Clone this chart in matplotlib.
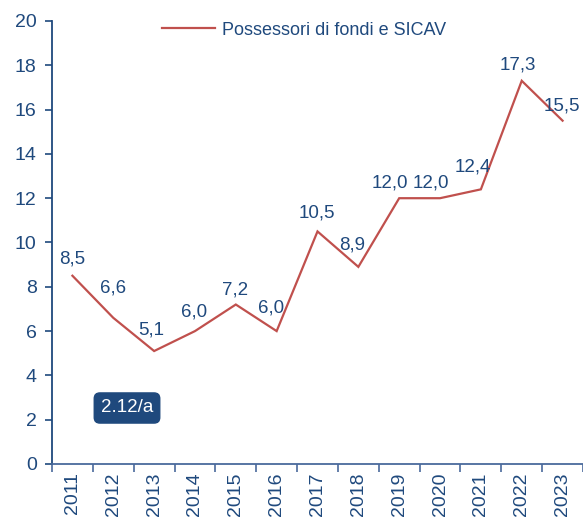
import matplotlib
matplotlib.use("Agg")
import matplotlib.pyplot as plt
from matplotlib import font_manager as fm
import numpy as np

years = ["2011", "2012", "2013", "2014", "2015", "2016", "2017",
         "2018", "2019", "2020", "2021", "2022", "2023"]
values = [8.5, 6.6, 5.1, 6.0, 7.2, 6.0, 10.5, 8.9, 12.0, 12.0, 12.4, 17.3, 15.5]
value_labels = ["8,5", "6,6", "5,1", "6,0", "7,2", "6,0", "10,5",
                "8,9", "12,0", "12,0", "12,4", "17,3", "15,5"]
y_ticks = [0, 2, 4, 6, 8, 10, 12, 14, 16, 18, 20]
series_name = "Possessori di fondi e SICAV"
badge_text = "2.12/a"

names = {f.name for f in fm.fontManager.ttflist}
fam = "Liberation Sans Narrow" if "Liberation Sans Narrow" in names else "Liberation Sans"
plt.rcParams["font.family"] = [fam, "DejaVu Sans"]

BLUE = "#1F497D"
AXBLUE = "#4A6A9C"
RED = "#C0504D"

fig = plt.figure(figsize=(5.83, 5.18), dpi=100)
ax = fig.add_axes([52 / 583, 1 - 464 / 518, 1 - 52 / 583, (464 - 21) / 518])

x = np.arange(len(years))
ax.plot(x, values, color=RED, lw=1.6, label=series_name, solid_joinstyle="miter")

# label offsets (pixels): dx, dy
dxs = [0, 0, -3, -1, -1, -6, -1, -6, -9, -9, -8, -4, -1]
dys = [17, 30, 21, 19, 15, 23, 18, 22, 15, 15, 22, 16, 15]
for xi, v, lab, dx, dy in zip(x, values, value_labels, dxs, dys):
    ax.annotate(lab, (xi, v), xytext=(dx * 0.72, dy * 0.72), textcoords="offset points",
                ha="center", va="center", color=BLUE, fontsize=13.5)

ax.set_xlim(-0.5, len(years) - 0.5)
ax.set_ylim(0, 20)
ax.set_yticks(y_ticks)
ax.set_yticklabels([str(t) for t in y_ticks])
ax.set_xticks(x)
ax.set_xticklabels(years, rotation=90)
ax.set_xticks(np.arange(len(years) + 1) - 0.5, minor=True)

ax.tick_params(axis="y", direction="out", length=5, width=1.2, color=BLUE,
               labelcolor=BLUE, labelsize=14, pad=6)
ax.tick_params(axis="x", which="major", length=0, labelcolor=BLUE, labelsize=14, pad=6)
ax.tick_params(axis="x", which="minor", direction="out", length=6, width=1.2, color=AXBLUE)

for s in ["top", "right"]:
    ax.spines[s].set_visible(False)
ax.spines["left"].set_color(BLUE)
ax.spines["left"].set_linewidth(1.3)
ax.spines["bottom"].set_color(AXBLUE)
ax.spines["bottom"].set_linewidth(1.3)

leg = ax.legend(loc="upper center", bbox_to_anchor=(0.475, 1.035), frameon=False,
                fontsize=13, handlelength=2.9, handletextpad=0.4)
for t in leg.get_texts():
    t.set_color(BLUE)

ax.text((127 - 52) / 531, (464 - 408) / 443, badge_text,
        transform=ax.transAxes, ha="center", va="center", color="white", fontsize=13.5,
        bbox=dict(boxstyle="round,pad=0.35,rounding_size=0.3", fc=BLUE, ec=BLUE))

fig.savefig("out.png", dpi=100)
